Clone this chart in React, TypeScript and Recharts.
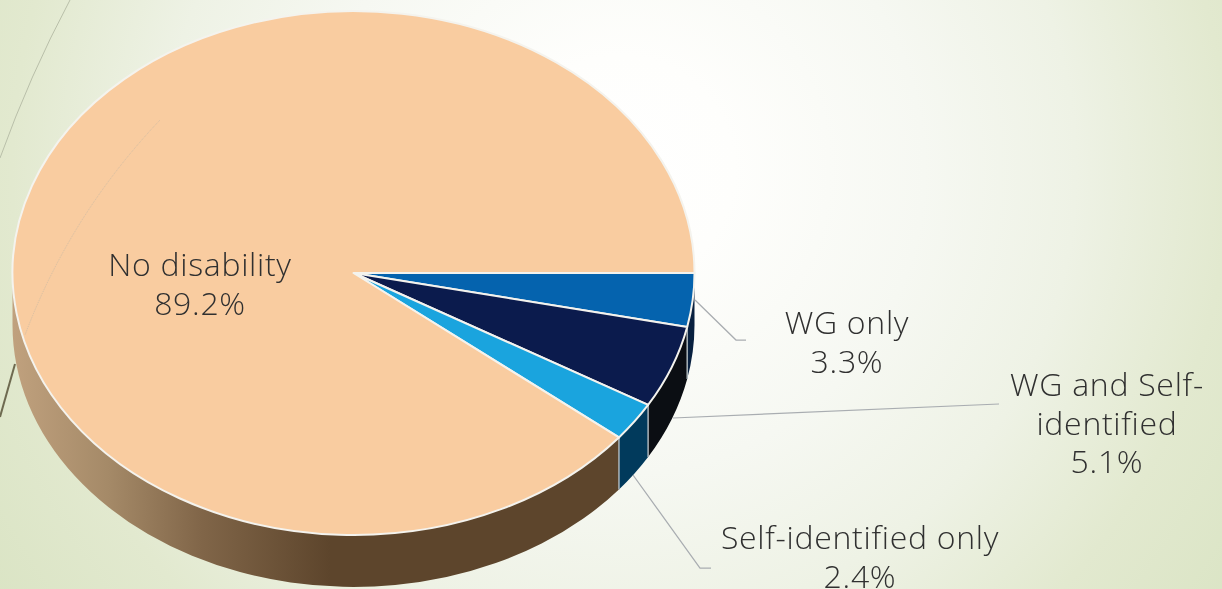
import React from 'react';
import { PieChart, Pie } from 'recharts';

const sliceNames = ['WG only', 'WG and Self-identified', 'Self-identified only', 'No disability'];
const sliceValues = [3.3, 5.1, 2.4, 89.2];
const topColors = ['#0563ae', '#0b1b4d', '#1aa4de', '#f9cca0'];
const wallColors = ['#08203f', '#0b0e13', '#013a5c', 'url(#brownWall)'];
const labelLines = [['WG only'], ['WG and Self-', 'identified'], ['Self-identified only'], ['No disability']];

// label placement, same order as the slices
const labelCenters = [847, 1107, 860, 200];
const labelBaselines = [334, 396, 549, 276];
const leaderPaths = [
    'M695,300 L736,340 L746,340',
    'M673,418 L999,404',
    'M633,475 L700,568 L711,568',
    '',
];

const WIDTH = 1222;
const HEIGHT = 589;
const CX = 353.5;
const CY = 273;
const RX = 341;
const RY = 262;
const DEPTH = 52;
const SQUASH = RY / RX;
const LINE_HEIGHT = 38.5;
const FONT = "'Open Sans', Lato, sans-serif";

const topData = sliceNames.map((name, i) => ({ name, value: sliceValues[i], fill: topColors[i] }));
const wallData = sliceNames.map((name, i) => ({ name, value: sliceValues[i], fill: wallColors[i] }));

const pointAt = (cx: number, cy: number, r: number, deg: number) => {
    const rad = (deg * Math.PI) / 180;
    return { x: cx + r * Math.cos(rad), y: cy + r * SQUASH * Math.sin(rad) };
};

// Pie hands us circular sectors, flatten them into the tilted look
const TopSlice = (props: any) => {
    const { cx, cy, outerRadius, startAngle, endAngle, fill } = props;
    const a = -startAngle;
    const b = -endAngle;
    const p0 = pointAt(cx, cy, outerRadius, a);
    const p1 = pointAt(cx, cy, outerRadius, b);
    const large = b - a > 180 ? 1 : 0;
    const d = `M${cx},${cy} L${p0.x},${p0.y} A${outerRadius},${outerRadius * SQUASH} 0 ${large} 1 ${p1.x},${p1.y} Z`;
    return <path d={d} fill={fill} stroke="#f4f3ee" strokeWidth={2} strokeLinejoin="round" />;
};

const WallSlice = (props: any) => {
    const { cx, cy, outerRadius, startAngle, endAngle, fill } = props;
    const a = Math.max(-startAngle, 0);
    const b = Math.min(-endAngle, 180);
    if (b <= a) return <g />;
    const p0 = pointAt(cx, cy, outerRadius, a);
    const p1 = pointAt(cx, cy, outerRadius, b);
    const ry = outerRadius * SQUASH;
    const d =
        `M${p0.x},${p0.y} A${outerRadius},${ry} 0 0 1 ${p1.x},${p1.y} ` +
        `L${p1.x},${p1.y + DEPTH} A${outerRadius},${ry} 0 0 0 ${p0.x},${p0.y + DEPTH} Z`;
    return (
        <g>
            <path d={d} fill={fill} />
            {a > 0 && (
                <path d={`M${p0.x},${p0.y} L${p0.x},${p0.y + DEPTH}`} stroke="#aab4ba" strokeWidth={1.5} />
            )}
        </g>
    );
};

const renderLabel = (props: any) => {
    const { index, value } = props;
    const x = labelCenters[index];
    const y = labelBaselines[index];
    const lines = [...labelLines[index], `${value}%`];
    return (
        <text
            key={index}
            x={x}
            y={y}
            textAnchor="middle"
            fill="#303030"
            fontFamily={FONT}
            fontSize={32}
            fontWeight={300}
            letterSpacing={0.7}
        >
            {lines.map((line, i) => (
                <tspan key={line} x={x} dy={i === 0 ? 0 : LINE_HEIGHT}>
                    {line}
                </tspan>
            ))}
        </text>
    );
};

const renderLeader = (props: any) => (
    <path key={props.index} d={leaderPaths[props.index]} fill="none" stroke="#a9adb1" strokeWidth={1.25} />
);

const App: React.FC = () => {
    return (
        <div
            style={{
                position: 'fixed',
                left: 0,
                top: 0,
                width: WIDTH,
                height: HEIGHT,
                overflow: 'hidden',
                background:
                    'radial-gradient(circle 760px at 620px 170px, #ffffff 0%, #fefefc 15%, #f6f8f2 40%, #eef2e5 60%, #e2e9cf 80%, #dae4c4 100%)',
            }}
        >
            {/* theme decoration behind the chart */}
            <svg width={WIDTH} height={HEIGHT} style={{ position: 'absolute', left: 0, top: 0 }}>
                <path d="M70,0 Q30,75 0,158" fill="none" stroke="#b9bfa9" strokeWidth={1} />
                <path d="M15,364 L0,417" fill="none" stroke="#6e6a50" strokeWidth={2} />
            </svg>
            <div style={{ position: 'absolute', left: 0, top: 0 }}>
                <PieChart width={WIDTH} height={HEIGHT} margin={{ top: 0, right: 0, bottom: 0, left: 0 }}>
                    <defs>
                        <linearGradient id="brownWall" gradientUnits="userSpaceOnUse" x1="12" y1="0" x2="330" y2="0">
                            <stop offset="0%" stopColor="#c0a17e" />
                            <stop offset="30%" stopColor="#a58a68" />
                            <stop offset="60%" stopColor="#806548" />
                            <stop offset="100%" stopColor="#5d452c" />
                        </linearGradient>
                    </defs>
                    <Pie
                        data={wallData}
                        dataKey="value"
                        nameKey="name"
                        cx={CX}
                        cy={CY}
                        outerRadius={RX}
                        startAngle={0}
                        endAngle={-360}
                        stroke="none"
                        shape={WallSlice}
                        isAnimationActive={false}
                    />
                    <Pie
                        data={topData}
                        dataKey="value"
                        nameKey="name"
                        cx={CX}
                        cy={CY}
                        outerRadius={RX}
                        startAngle={0}
                        endAngle={-360}
                        shape={TopSlice}
                        label={renderLabel}
                        labelLine={renderLeader}
                        isAnimationActive={false}
                    />
                </PieChart>
            </div>
            <svg width={WIDTH} height={HEIGHT} style={{ position: 'absolute', left: 0, top: 0, pointerEvents: 'none' }}>
                <path d="M160,120 Q70,215 25,335" fill="none" stroke="#d3bea4" strokeWidth={1} strokeDasharray="1 1" />
            </svg>
        </div>
    );
};

export default App;
